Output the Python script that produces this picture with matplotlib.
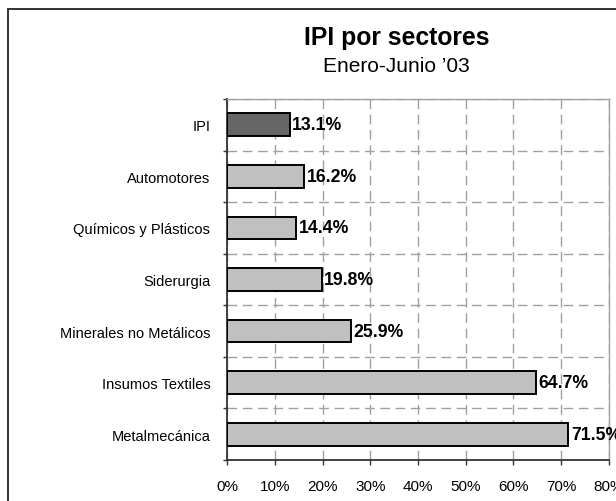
import numpy as np
import matplotlib.pyplot as plt
from matplotlib.patches import Rectangle
from matplotlib.ticker import FixedLocator, FuncFormatter

plt.rcParams['font.family'] = ['Liberation Sans', 'DejaVu Sans']

# datos
sectores = ['IPI', 'Automotores', 'Químicos y Plásticos', 'Siderurgia',
            'Minerales no Metálicos', 'Insumos Textiles', 'Metalmecánica']
variacion = [13.1, 16.2, 14.4, 19.8, 25.9, 64.7, 71.5]
x_ticks = [0, 10, 20, 30, 40, 50, 60, 70, 80]

colores = ['#666666'] + ['#c0c0c0'] * (len(sectores) - 1)

fig = plt.figure(figsize=(6.16, 5.02), dpi=100)
# marco exterior del grafico (se corta a la derecha y abajo)
fig.patches.append(Rectangle((8 / 616, -0.05), 1.2, 1 - 10 / 502 + 0.05,
                             transform=fig.transFigure, fill=False,
                             edgecolor='#222222', linewidth=1.3))

ax = fig.add_axes([227 / 616, 1 - 461 / 502, (609 - 227) / 616, (461 - 100) / 502])

y = np.arange(len(sectores))
ax.barh(y, variacion, height=0.44, color=colores, edgecolor='black',
        linewidth=1.4, zorder=3)

for yi, v in zip(y, variacion):
    ax.annotate(f'{v:.1f}%', (v, yi), xytext=(2, 0), textcoords='offset points',
                ha='left', va='center', fontsize=12.7, fontweight='bold',
                zorder=4, annotation_clip=False)

ax.set_xlim(0, 80)
ax.set_ylim(len(sectores) - 0.5, -0.5)

ax.set_xticks(x_ticks)
ax.xaxis.set_major_formatter(FuncFormatter(lambda v, p: f'{v:.0f}%'))
ax.set_yticks(y)
ax.set_yticklabels(sectores)
ax.yaxis.set_minor_locator(FixedLocator(np.arange(len(sectores) + 1) - 0.5))

ax.tick_params(axis='x', direction='out', length=3.6, width=1, color='#333333',
               labelsize=11, pad=10)
ax.tick_params(axis='y', which='major', length=0, labelsize=10.5, pad=12)
ax.tick_params(axis='y', which='minor', direction='out', length=3.2, width=1,
               color='#333333')

ax.grid(axis='x', which='major', color='#a0a0a0', linestyle=(0, (7, 4)),
        linewidth=1, zorder=0)
ax.grid(axis='y', which='minor', color='#a0a0a0', linestyle=(0, (7, 4)),
        linewidth=1, zorder=0)

for s in ['top', 'right']:
    ax.spines[s].set_color('#a0a0a0')
    ax.spines[s].set_linewidth(1)
for s in ['left', 'bottom']:
    ax.spines[s].set_color('#333333')
    ax.spines[s].set_linewidth(1.3)

fig.text(397 / 616, 1 - 38 / 502, 'IPI por sectores', ha='center', va='center',
         fontsize=17.8, fontweight='bold')
fig.text(396 / 616, 1 - 67 / 502, 'Enero-Junio ’03', ha='center', va='center',
         fontsize=15)

fig.savefig('out.png', dpi=100, facecolor='white')
